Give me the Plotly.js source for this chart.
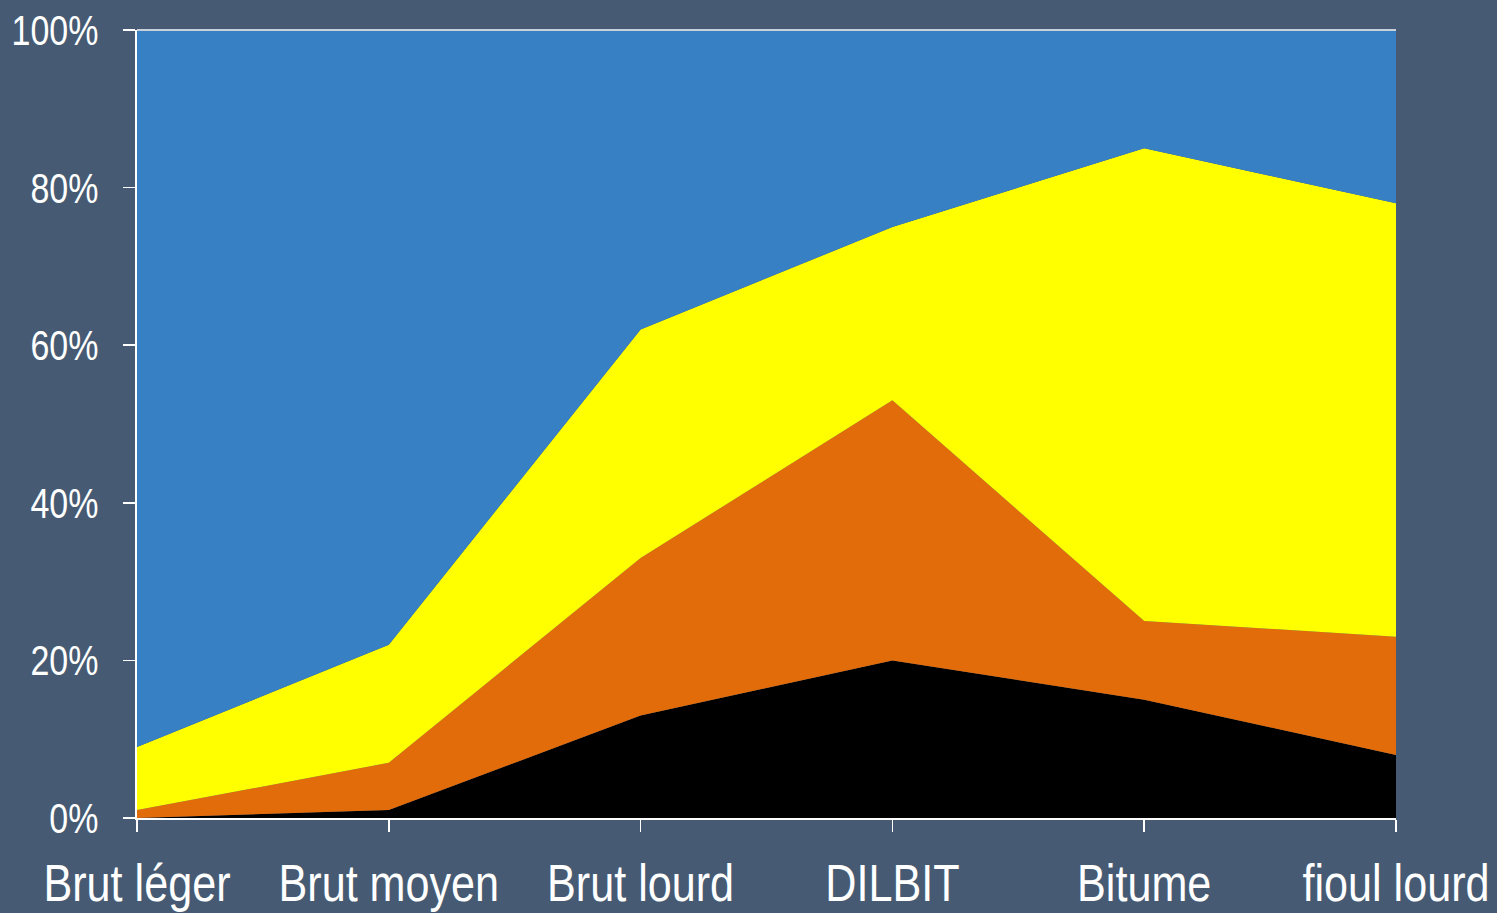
<!DOCTYPE html>
<html>
<head>
<meta charset="utf-8">
<script src="https://cdn.plot.ly/plotly-3.0.1.min.js"></script>
<style>
  html, body { margin: 0; padding: 0; background: #465b73; }
  #chart { width: 1497px; height: 913px; }
</style>
</head>
<body>
<div id="chart"></div>
<script>
// Crude types, from lightest to heaviest
const categories = ['Brut léger', 'Brut moyen', 'Brut lourd', 'DILBIT', 'Bitume', 'fioul lourd'];

// Share of each fraction (%), stacked bottom to top
const fractionBlack  = [0, 1, 13, 20, 15, 8];
const fractionOrange = [1, 6, 20, 33, 10, 15];
const fractionYellow = [8, 15, 29, 22, 60, 55];
const fractionBlue   = [91, 78, 38, 25, 15, 22];

const yTickValues = [0, 20, 40, 60, 80, 100];
const yTickLabels = ['0%', '20%', '40%', '60%', '80%', '100%'];

const font = 'Liberation Sans Narrow, Arial Narrow, Liberation Sans, Arial, sans-serif';
// horizontal squeeze applied to tick labels for a narrow look
const xLabelSqueeze = 0.83;
const yLabelSqueeze = 0.79;

function layer(values, color) {
  return {
    x: categories,
    y: values,
    type: 'scatter',
    mode: 'lines',
    stackgroup: 'share',
    fillcolor: color,
    line: { width: 0, color: color },
    hoverinfo: 'skip'
  };
}

const data = [
  layer(fractionBlack, '#000000'),
  layer(fractionOrange, '#e36c0a'),
  layer(fractionYellow, '#ffff00'),
  layer(fractionBlue, '#3780c3')
];

const layout = {
  width: 1497,
  height: 913,
  paper_bgcolor: '#465b73',
  plot_bgcolor: '#465b73',
  showlegend: false,
  margin: { l: 137, r: 101, t: 30, b: 95 },
  xaxis: {
    type: 'category',
    range: [0, 5],
    showgrid: false,
    zeroline: false,
    showline: true,
    linecolor: '#ffffff',
    linewidth: 2,
    ticks: 'outside',
    ticklen: 12,
    tickwidth: 1.5,
    tickcolor: '#ffffff',
    ticklabelstandoff: 7,
    tickfont: { family: font, size: 52, color: '#ffffff' }
  },
  yaxis: {
    range: [0, 100],
    tickvals: yTickValues,
    ticktext: yTickLabels,
    showgrid: false,
    zeroline: false,
    showline: true,
    linecolor: '#ffffff',
    linewidth: 2,
    ticks: 'outside',
    ticklen: 12,
    tickwidth: 1.5,
    tickcolor: '#ffffff',
    ticklabelstandoff: 16,
    tickfont: { family: font, size: 43, color: '#ffffff' }
  },
  shapes: [{
    type: 'line', xref: 'paper', yref: 'paper',
    x0: 0, x1: 1, y0: 1, y1: 1,
    line: { color: '#c8d0da', width: 2 }
  }]
};

function squeeze(gd, selector, factor) {
  gd.querySelectorAll(selector).forEach(function (el) {
    const box = el.getBBox();
    const anchor = el.getAttribute('text-anchor') || 'start';
    let ax = box.x;
    if (anchor === 'middle') ax = box.x + box.width / 2;
    else if (anchor === 'end') ax = box.x + box.width;
    const base = el.getAttribute('transform') || '';
    el.setAttribute('transform',
      base + ' translate(' + ax + ',0) scale(' + factor + ',1) translate(' + (-ax) + ',0)');
  });
}

Plotly.newPlot('chart', data, layout, { displayModeBar: false, staticPlot: true })
  .then(function (gd) {
    squeeze(gd, '.xtick text', xLabelSqueeze);
    squeeze(gd, '.ytick text', yLabelSqueeze);
  });
</script>
</body>
</html>
